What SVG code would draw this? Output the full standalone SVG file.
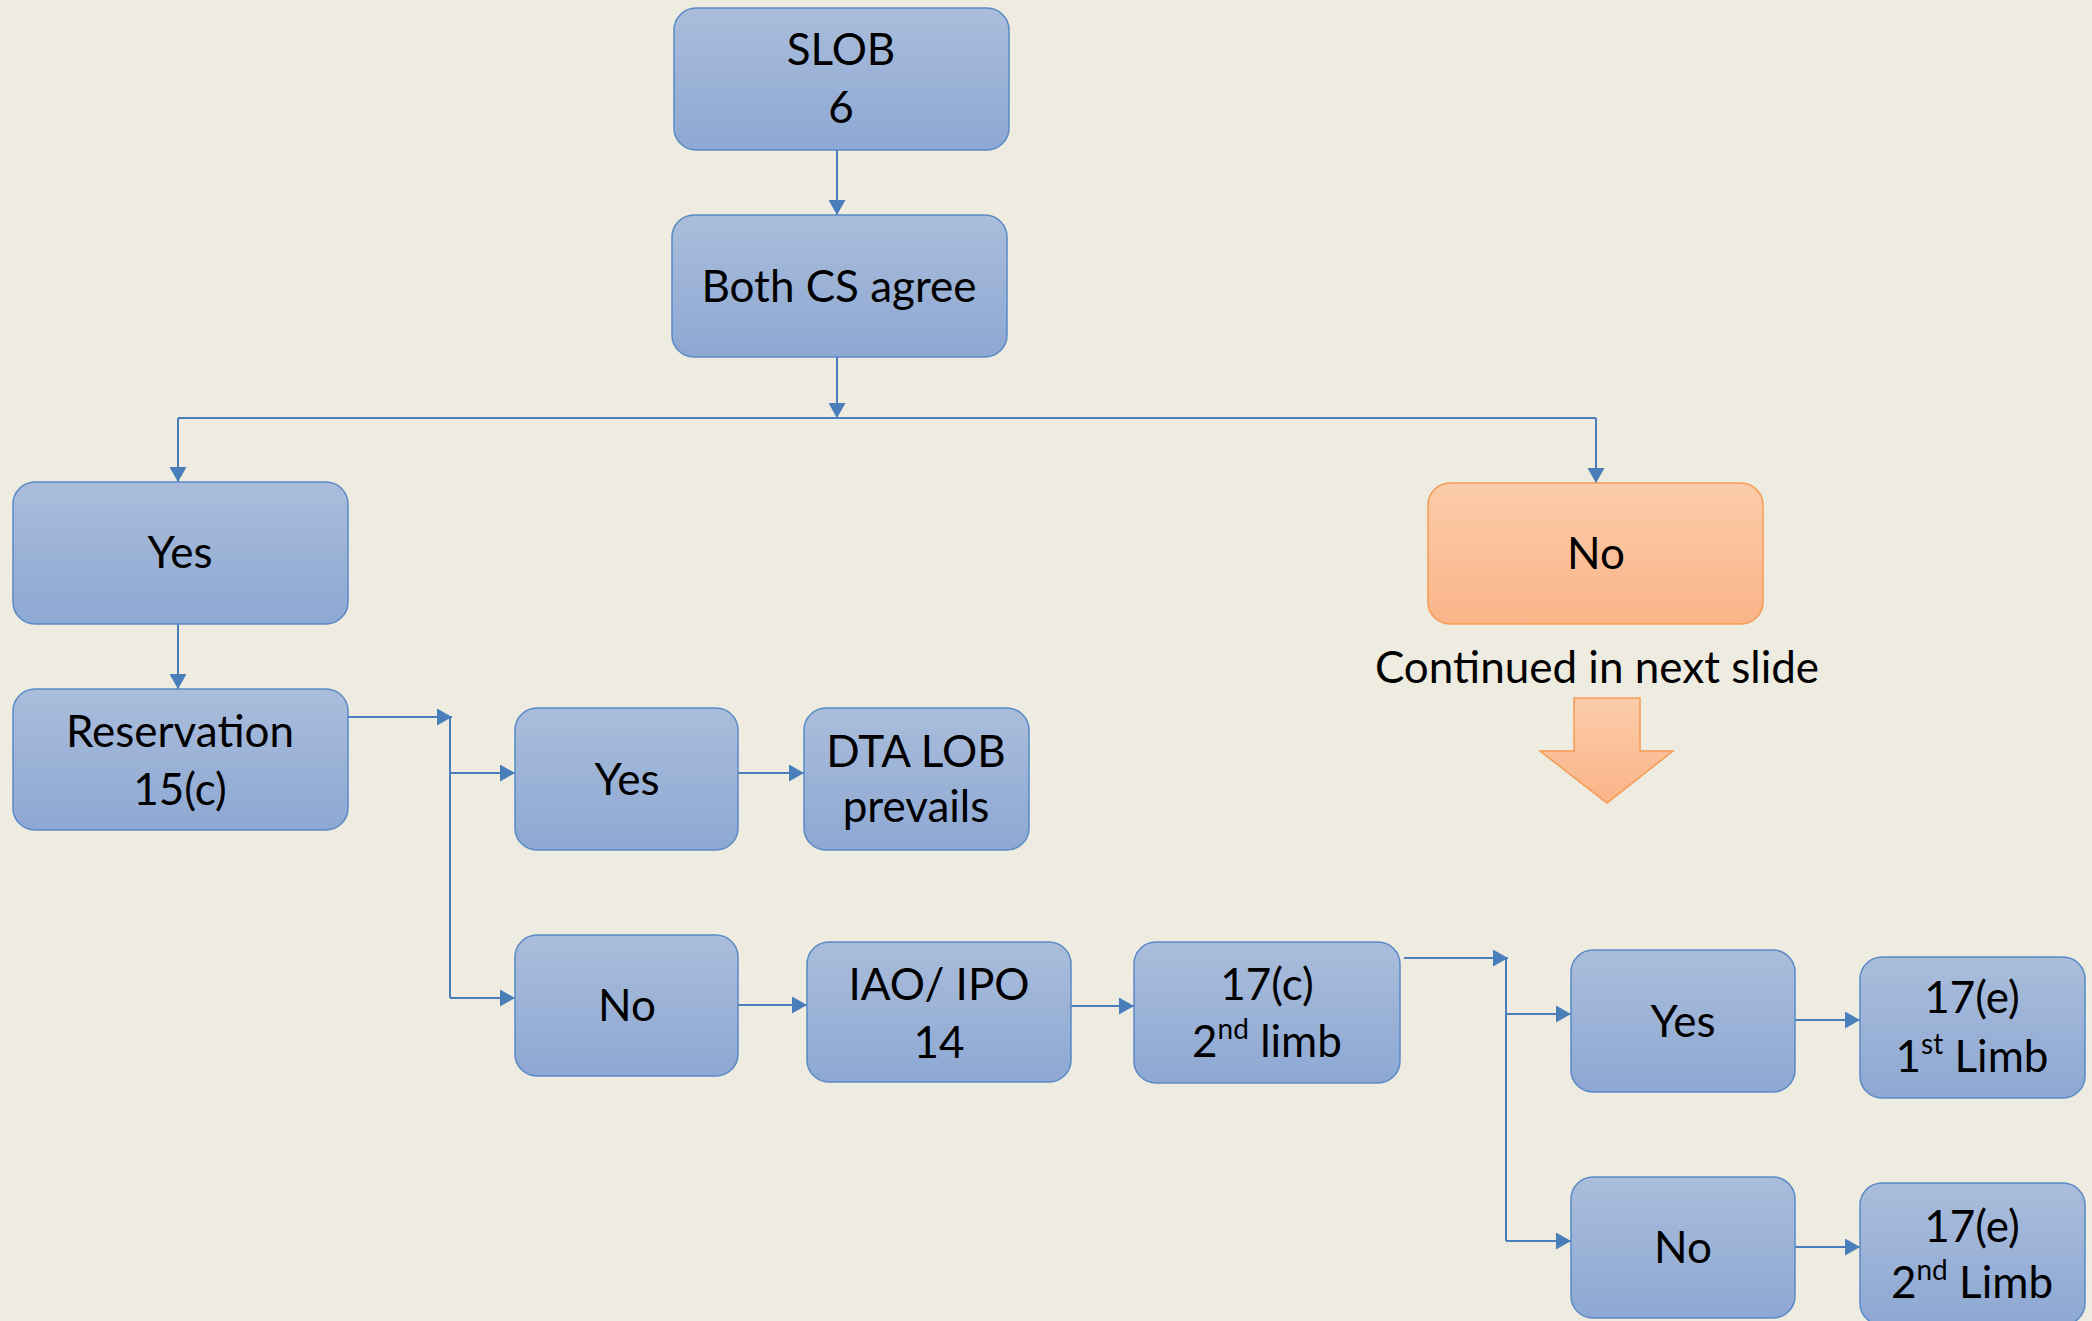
<svg xmlns="http://www.w3.org/2000/svg" width="2092" height="1321" viewBox="0 0 2092 1321">
<defs>
<linearGradient id="gb" x1="0" y1="0" x2="0" y2="1"><stop offset="0" stop-color="#AABDDB"/><stop offset="1" stop-color="#8DA8D3"/></linearGradient>
<linearGradient id="go" x1="0" y1="0" x2="0" y2="1"><stop offset="0" stop-color="#FBCCAA"/><stop offset="1" stop-color="#FAB488"/></linearGradient>
<marker id="ah" markerWidth="17" markerHeight="17" refX="15" refY="8.5" orient="auto" markerUnits="userSpaceOnUse"><path d="M0,0 L15,8.5 L0,17 Z" fill="#4A7EBB"/></marker>
<style>
.b{fill:url(#gb);stroke:#5A8AC6;stroke-width:1.5}
.o{fill:url(#go);stroke:#F79A52;stroke-width:1.5}
.t{font-family:Lato,"Liberation Sans",sans-serif;font-size:44px;fill:#000;text-anchor:middle}
.s{font-size:28px}
.c{fill:none;stroke:#4A7EBB;stroke-width:2}
.a{marker-end:url(#ah)}
</style>
</defs>
<rect width="2092" height="1321" fill="#EEEBE0"/>
<g id="connectors">
<path class="c a" d="M837,150 V215"/>
<path class="c a" d="M837,357 V418"/>
<path class="c" d="M178,418 H1596"/>
<path class="c a" d="M178,418 V482"/>
<path class="c a" d="M1596,418 V483"/>
<path class="c a" d="M178,624 V689"/>
<path class="c a" d="M348,717 H452"/>
<path class="c" d="M450,717 V998"/>
<path class="c a" d="M450,773 H515"/>
<path class="c a" d="M450,998 H515"/>
<path class="c a" d="M738,773 H804"/>
<path class="c a" d="M738,1005 H807"/>
<path class="c a" d="M1071,1006 H1134"/>
<path class="c a" d="M1404,958 H1508"/>
<path class="c" d="M1506,958 V1241"/>
<path class="c a" d="M1506,1014 H1571"/>
<path class="c a" d="M1506,1241 H1571"/>
<path class="c a" d="M1795,1020 H1860"/>
<path class="c a" d="M1795,1247 H1860"/>
</g>
<g id="slob"><rect class="b" x="674" y="8" width="335" height="142" rx="22"/><text class="t" x="841" y="65">SLOB</text><text class="t" x="841" y="123">6</text></g>
<g id="both"><rect class="b" x="672" y="215" width="335" height="142" rx="22"/><text class="t" x="839" y="302">Both CS agree</text></g>
<g id="yes1"><rect class="b" x="13" y="482" width="335" height="142" rx="22"/><text class="t" x="180" y="568">Yes</text></g>
<g id="no1"><rect class="o" x="1428" y="483" width="335" height="141" rx="22"/><text class="t" x="1596" y="569">No</text></g>
<g id="continued"><text class="t" x="1597" y="683">Continued in next slide</text><path d="M1574,698 H1640 V751 H1673 L1607,803 L1540,751 H1574 Z" fill="url(#go)" stroke="#F79A52" stroke-width="1.5"/></g>
<g id="reservation"><rect class="b" x="13" y="689" width="335" height="141" rx="22"/><text class="t" x="180" y="747">Reservation</text><text class="t" x="180" y="805">15(c)</text></g>
<g id="yes2"><rect class="b" x="515" y="708" width="223" height="142" rx="22"/><text class="t" x="627" y="795">Yes</text></g>
<g id="dta"><rect class="b" x="804" y="708" width="225" height="142" rx="22"/><text class="t" x="916" y="767">DTA LOB</text><text class="t" x="916" y="822">prevails</text></g>
<g id="no2"><rect class="b" x="515" y="935" width="223" height="141" rx="22"/><text class="t" x="627" y="1021">No</text></g>
<g id="iao"><rect class="b" x="807" y="942" width="264" height="140" rx="22"/><text class="t" x="939" y="1000">IAO/ IPO</text><text class="t" x="939" y="1058">14</text></g>
<g id="c17"><rect class="b" x="1134" y="942" width="266" height="141" rx="22"/><text class="t" x="1267" y="1000">17(c)</text><text class="t" x="1267" y="1057">2<tspan class="s" dy="-18">nd</tspan><tspan dy="18"> limb</tspan></text></g>
<g id="yes3"><rect class="b" x="1571" y="950" width="224" height="142" rx="22"/><text class="t" x="1683" y="1037">Yes</text></g>
<g id="e17a"><rect class="b" x="1860" y="957" width="225" height="141" rx="22"/><text class="t" x="1972" y="1013">17(e)</text><text class="t" x="1972" y="1072">1<tspan class="s" dy="-18">st</tspan><tspan dy="18"> Limb</tspan></text></g>
<g id="no3"><rect class="b" x="1571" y="1177" width="224" height="141" rx="22"/><text class="t" x="1683" y="1263">No</text></g>
<g id="e17b"><rect class="b" x="1860" y="1183" width="225" height="142" rx="22"/><text class="t" x="1972" y="1242">17(e)</text><text class="t" x="1972" y="1298">2<tspan class="s" dy="-18">nd</tspan><tspan dy="18"> Limb</tspan></text></g>
</svg>
